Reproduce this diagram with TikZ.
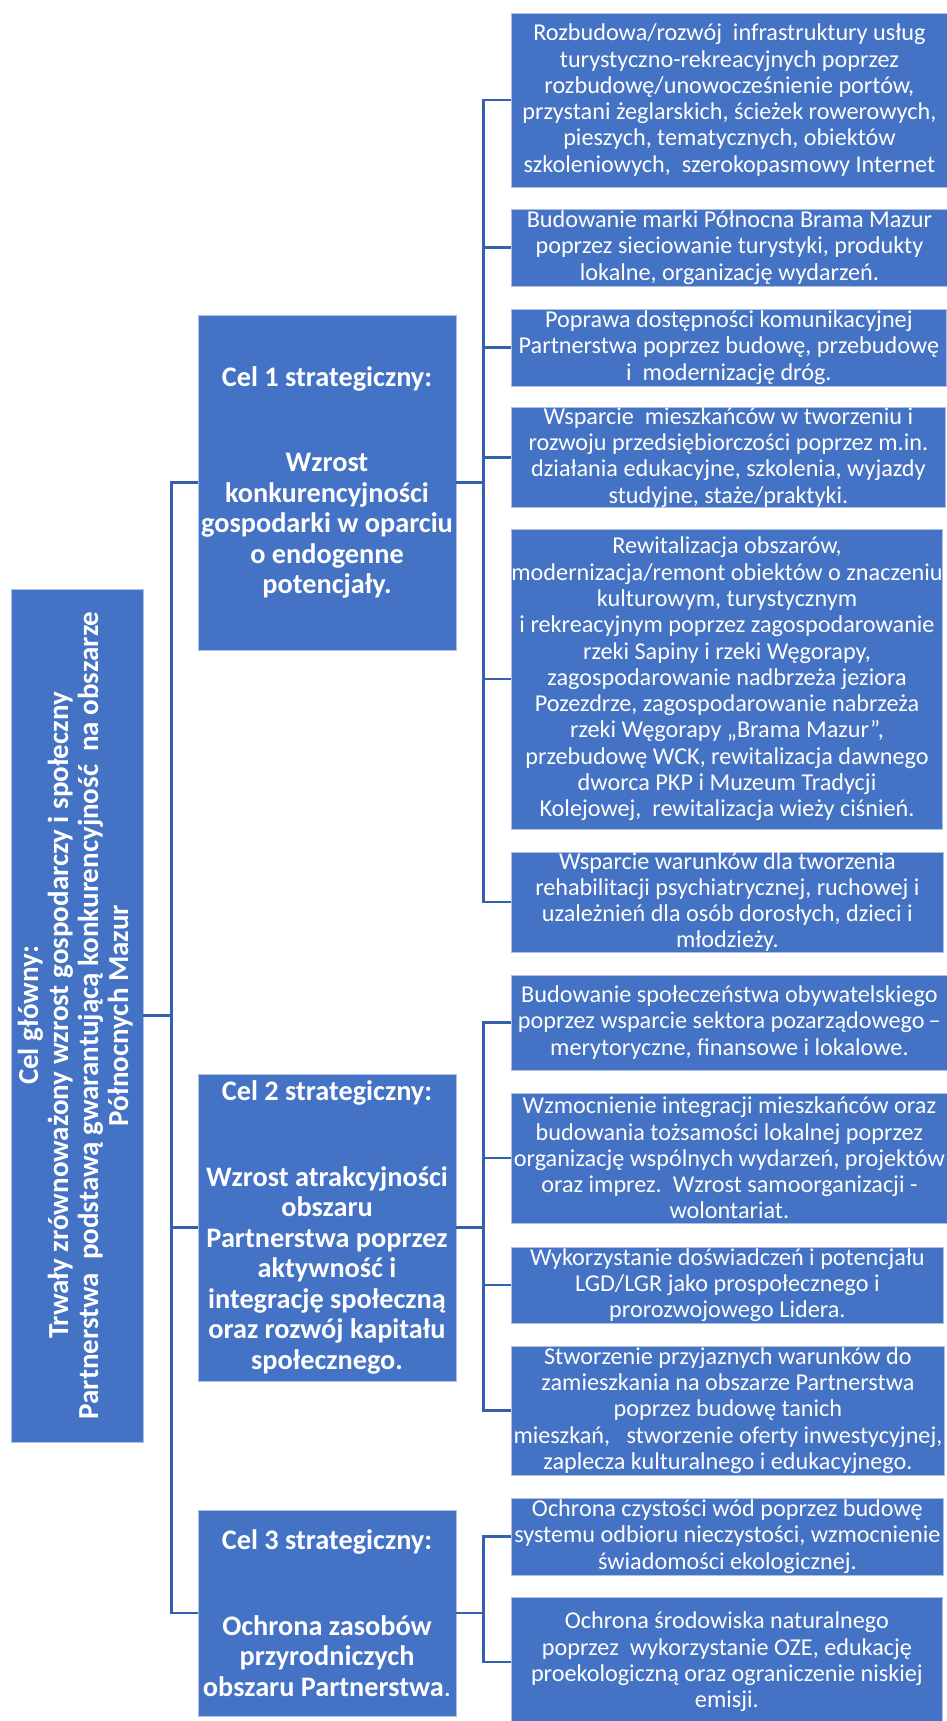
\documentclass[tikz,border=0pt]{standalone}
\usepackage{fontspec}
\setmainfont{Carlito}
\usepackage{tikz}
\definecolor{boxblue}{HTML}{4472C4}
\definecolor{linkblue}{HTML}{3560AC}
\tikzset{anybox/.style={rectangle, fill=boxblue, draw=white!55!boxblue, line width=.8pt, text=white, align=center, inner sep=0pt}}
\tikzset{glownybox/.style={anybox, minimum width=132pt, minimum height=853pt, font=\bfseries\fontsize{29}{30}\selectfont}}
\tikzset{celbox/.style={anybox, minimum width=258pt, font=\bfseries\fontsize{28.3}{30.5}\selectfont}}
\tikzset{dzbox/.style={anybox, anchor=west, font=\fontsize{24.2}{26.3}\selectfont}}
\tikzset{link/.style={draw=linkblue, line width=2.2pt}}

\begin{document}
\begin{tikzpicture}[x=1pt,y=-1pt]
  \useasboundingbox (0,0) rectangle (947,1721);
  % cel glowny
  \node[glownybox] (glowny) at (77,1015.5) {\rotatebox{90}{\begin{tabular}{@{}c@{}}
    Cel główny:\\
    Trwały zrównoważony wzrost gospodarczy i społeczny\\
    Partnerstwa\ \ podstawą gwarantującą konkurencyjność\ \ na obszarze\\
    Północnych Mazur\end{tabular}}};
  % cele strategiczne
  \node[celbox, minimum height=335pt] (c1) at (327,482.5)
    {Cel 1 strategiczny:\\[55pt]Wzrost\\konkurencyjności\\gospodarki w oparciu\\o endogenne\\potencjały.};
  \node[celbox, minimum height=307pt] (c2) at (327,1227.5)
    {Cel 2 strategiczny:\\[55pt]Wzrost atrakcyjności\\obszaru\\Partnerstwa poprzez\\aktywność i\\integrację społeczną\\oraz rozwój kapitału\\społecznego.};
  \node[celbox, minimum height=206pt] (c3) at (327,1613)
    {Cel 3 strategiczny:\\[55pt]Ochrona zasobów\\przyrodniczych\\obszaru Partnerstwa{\mdseries .}};
  % dzialania
  \node[dzbox, minimum width=436pt, minimum height=174pt] (dz1) at (511,100)
    {Rozbudowa/rozwój\ \ infrastruktury usług\\turystyczno-rekreacyjnych poprzez\\rozbudowę/unowocześnienie portów,\\przystani żeglarskich, ścieżek rowerowych,\\pieszych, tematycznych, obiektów\\szkoleniowych,\ \ szerokopasmowy Internet};
  \node[dzbox, minimum width=436pt, minimum height=77pt] (dz2) at (511,247.5)
    {Budowanie marki Północna Brama Mazur\\poprzez sieciowanie turystyki, produkty\\lokalne, organizację wydarzeń.};
  \node[dzbox, minimum width=435pt, minimum height=77pt] (dz3) at (511,347.5)
    {Poprawa dostępności komunikacyjnej\\Partnerstwa poprzez budowę, przebudowę\\i\ \ modernizację dróg.};
  \node[dzbox, minimum width=434pt, minimum height=99pt] (dz4) at (511,457.5)
    {Wsparcie\ \ mieszkańców w tworzeniu i\\rozwoju przedsiębiorczości poprzez m.in.\\działania edukacyjne, szkolenia, wyjazdy\\studyjne, staże/praktyki.};
  \node[dzbox, minimum width=429pt, minimum height=300pt] (dz5) at (511,679)
    {Rewitalizacja obszarów,\\modernizacja/remont obiektów o znaczeniu\\kulturowym, turystycznym\\i rekreacyjnym poprzez zagospodarowanie\\rzeki Sapiny i rzeki Węgorapy,\\zagospodarowanie nadbrzeża jeziora\\Pozezdrze, zagospodarowanie nabrzeża\\rzeki Węgorapy „Brama Mazur”,\\przebudowę WCK, rewitalizacja dawnego\\dworca PKP i Muzeum Tradycji\\Kolejowej,\ \ rewitalizacja wieży ciśnień.};
  \node[dzbox, minimum width=432pt, minimum height=100pt] (dz6) at (511,902)
    {Wsparcie warunków dla tworzenia\\rehabilitacji psychiatrycznej, ruchowej i\\uzależnień dla osób dorosłych, dzieci i\\młodzieży.};
  \node[dzbox, minimum width=436pt, minimum height=95pt] (dz7) at (511,1022.5)
    {Budowanie społeczeństwa obywatelskiego\\poprzez wsparcie sektora pozarządowego\,–\\merytoryczne, finansowe i lokalowe.};
  \node[dzbox, minimum width=436pt, minimum height=130pt] (dz8) at (511,1158)
    {Wzmocnienie integracji mieszkańców oraz\\budowania tożsamości lokalnej poprzez\\organizację wspólnych wydarzeń, projektów\\oraz imprez.\ \ Wzrost samoorganizacji -\\wolontariat.};
  \node[dzbox, minimum width=432pt, minimum height=76pt] (dz9) at (511,1285)
    {Wykorzystanie doświadczeń i potencjału\\LGD/LGR jako prospołecznego i\\prorozwojowego Lidera.};
  \node[dzbox, minimum width=433pt, minimum height=129pt] (dz10) at (511,1410.5)
    {Stworzenie przyjaznych warunków do\\zamieszkania na obszarze Partnerstwa\\poprzez budowę tanich\\mieszkań,\ \ \ stworzenie oferty inwestycyjnej,\\zaplecza kulturalnego i edukacyjnego.};
  \node[dzbox, minimum width=432pt, minimum height=77pt] (dz11) at (511,1536.5)
    {Ochrona czystości wód poprzez budowę\\systemu odbioru nieczystości, wzmocnienie\\świadomości ekologicznej.};
  \node[dzbox, minimum width=431pt, minimum height=130pt] (dz12) at (511,1662)
    {Ochrona środowiska naturalnego\\poprzez\ \ wykorzystanie OZE, edukację\\proekologiczną oraz ograniczenie niskiej\\emisji.};
  % polaczenia
  \foreach \c in {c1,c2,c3}
    \draw[link] (glowny.east) -- ++(28,0) |- (\c.west);
  \foreach \i in {1,...,6}
    \draw[link] (c1.east) -- ++(27,0) |- (dz\i.west);
  \foreach \i in {7,...,10}
    \draw[link] (c2.east) -- ++(27,0) |- (dz\i.west);
  \foreach \i in {11,12}
    \draw[link] (c3.east) -- ++(27,0) |- (dz\i.west);
\end{tikzpicture}
\end{document}
